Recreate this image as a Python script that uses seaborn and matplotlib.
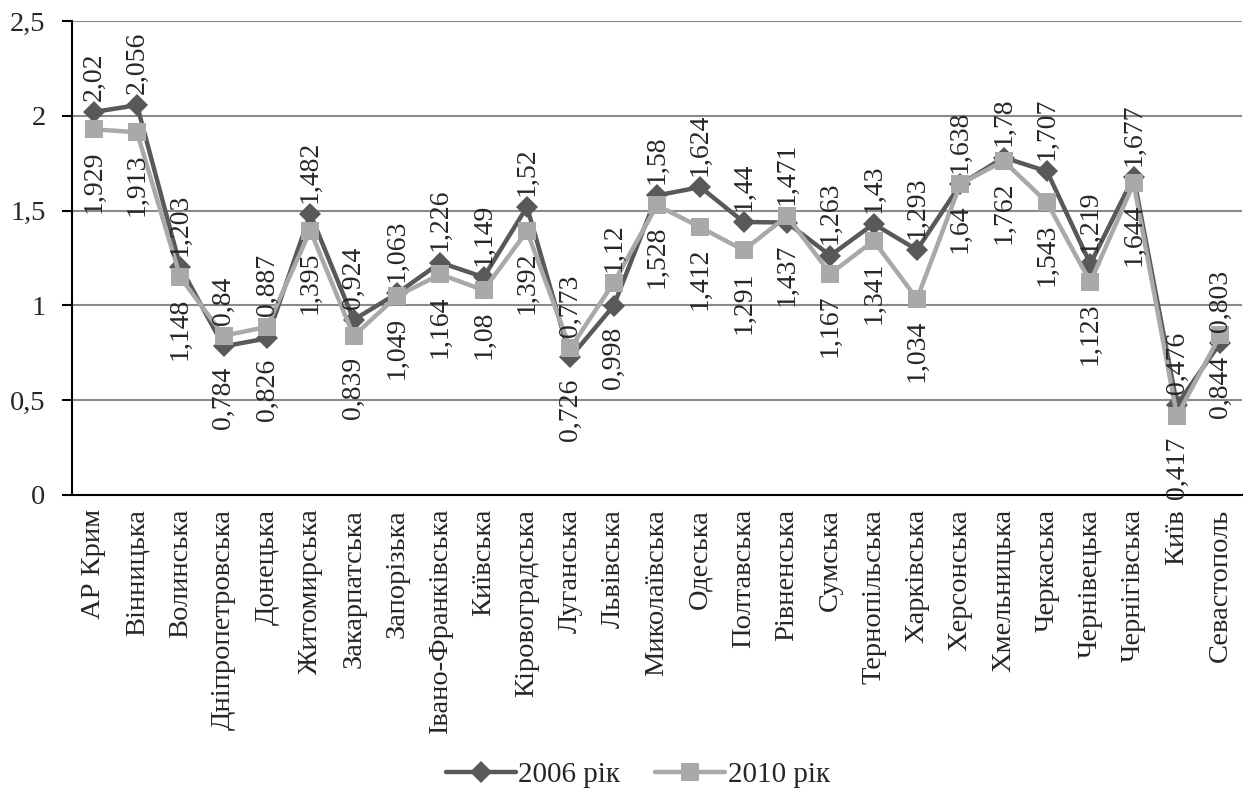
import matplotlib
matplotlib.use("Agg")
import matplotlib.pyplot as plt
import seaborn as sns
import pandas as pd
import numpy as np
from matplotlib.lines import Line2D
from matplotlib.ticker import FixedLocator, FuncFormatter

regions = ["АР Крим", "Вінницька", "Волинська", "Дніпропетровська", "Донецька",
           "Житомирська", "Закарпатська", "Запорізька", "Івано-Франківська", "Київська",
           "Кіровоградська", "Луганська", "Львівська", "Миколаївська", "Одеська",
           "Полтавська", "Рівненська", "Сумська", "Тернопільська", "Харківська",
           "Херсонська", "Хмельницька", "Черкаська", "Чернівецька", "Чернігівська",
           "Київ", "Севастополь"]
values_2006 = [2.02, 2.056, 1.203, 0.784, 0.826, 1.482, 0.924, 1.063, 1.226, 1.149,
               1.52, 0.726, 0.998, 1.58, 1.624, 1.44, 1.437, 1.263, 1.43, 1.293,
               1.638, 1.78, 1.707, 1.219, 1.677, 0.476, 0.803]
values_2010 = [1.929, 1.913, 1.148, 0.84, 0.887, 1.395, 0.839, 1.049, 1.164, 1.08,
               1.392, 0.773, 1.12, 1.528, 1.412, 1.291, 1.471, 1.167, 1.341, 1.034,
               1.64, 1.762, 1.543, 1.123, 1.644, 0.417, 0.844]
series_names = ["2006 рік", "2010 рік"]
y_ticks = [0, 0.5, 1, 1.5, 2, 2.5]

# label placement: True -> 2006 label above (2010 below); False -> swapped
label_2006_above = [True, True, True, False, False, True, True, True, True, True,
                    True, False, False, True, True, True, False, True, True, True,
                    True, True, True, True, True, True, True]

sns.set_theme(style="white")
FONT = "Liberation Serif"
plt.rcParams['font.family'] = FONT

FS_LAB = 20
FS_X = 20.5
FS_Y = 20.5
FS_LEG = 21
dark = "#595959"
light = "#a9a9a9"

fig = plt.figure(figsize=(12.51, 7.92), dpi=100)
ax = fig.add_axes([72/1251, 297/792, 1170/1251, 474/792])

n = len(regions)
df = pd.DataFrame({"pos": np.arange(n), "y2006": values_2006, "y2010": values_2010})

for sy in y_ticks[1:]:
    ax.axhline(sy, color="#8a8a8a", lw=1.5, zorder=0)

sns.lineplot(data=df, x="pos", y="y2006", ax=ax, color=dark, lw=3.2,
             marker="D", markersize=11, markeredgewidth=0, zorder=3, legend=False)
sns.lineplot(data=df, x="pos", y="y2010", ax=ax, color=light, lw=3.2,
             marker="s", markersize=13, markeredgewidth=0, zorder=4, legend=False)

for i in range(n):
    a6 = label_2006_above[i]
    for val, above in ((values_2006[i], a6), (values_2010[i], not a6)):
        txt = f"{val:g}".replace(".", ",")
        if above:
            ax.annotate(txt, (i, val), xytext=(0, 8), textcoords="offset points",
                        rotation=90, ha="center", va="bottom", fontsize=FS_LAB,
                        family=FONT, zorder=6)
        else:
            ax.annotate(txt, (i, val), xytext=(0, -15), textcoords="offset points",
                        rotation=90, ha="center", va="top", fontsize=FS_LAB,
                        family=FONT, zorder=6)

ax.set_xlim(-0.5, n - 0.5)
ax.set_ylim(0, 2.5)
ax.set_xticks(np.arange(n))
ax.set_xticklabels(regions, rotation=90, fontsize=FS_X, family=FONT)
ax.xaxis.set_minor_locator(FixedLocator(np.arange(n + 1) - 0.5))
ax.tick_params(axis="x", which="major", length=0, pad=10)
ax.tick_params(axis="x", which="minor", length=7, width=1.5, color="black", direction="out")
ax.set_yticks(y_ticks)
ax.yaxis.set_major_formatter(FuncFormatter(lambda v, p: f"{v:g}".replace(".", ",")))
ax.tick_params(axis="y", length=7, width=1.5, color="black", direction="out",
               labelsize=FS_Y, pad=12, left=True)
for lab in ax.get_yticklabels():
    lab.set_family(FONT)
ax.set_xlabel("")
ax.set_ylabel("")
for s in ["top", "right"]:
    ax.spines[s].set_visible(False)
for s in ["left", "bottom"]:
    ax.spines[s].set_color("black")
    ax.spines[s].set_linewidth(1.5)
ax.grid(False)

handles = [Line2D([], [], color=dark, lw=3.2, marker="D", markersize=11, markeredgewidth=0),
           Line2D([], [], color=light, lw=3.2, marker="s", markersize=13, markeredgewidth=0)]
fig.legend(handles, series_names, loc="center", bbox_to_anchor=(0.51, 0.022), ncol=2,
           frameon=False, prop={"family": FONT, "size": FS_LEG}, handlelength=2.4,
           handletextpad=0.1, columnspacing=1.2)

fig.savefig("out.png", dpi=100)
